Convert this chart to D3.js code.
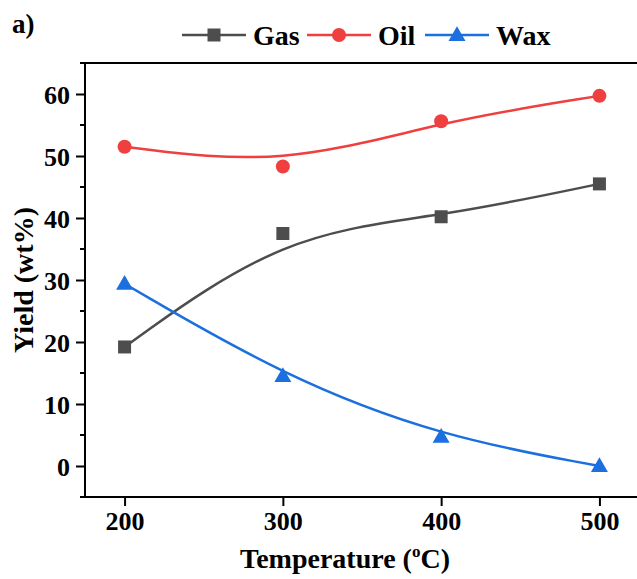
<!DOCTYPE html>
<html>
<head>
<meta charset="utf-8">
<script src="https://cdn.jsdelivr.net/npm/d3@7"></script>
<style>
  html, body { margin: 0; padding: 0; background: #fff; }
  svg text { font-family: "Times New Roman", "Liberation Serif", Tinos, Times, serif; font-weight: 700; fill: #000; }
</style>
</head>
<body>
<svg id="chart" width="637" height="579"></svg>
<script>
// Product yields (wt%) at each pyrolysis temperature
const temperatures = [200, 300, 400, 500];
const gasYield = [19.2, 37.5, 40.2, 45.5];
const oilYield = [51.5, 48.3, 55.6, 59.7];
const waxYield = [29.4, 14.5, 4.7, 0.0];
const seriesNames = ["Gas", "Oil", "Wax"];
const xTicks = [200, 300, 400, 500];
const yTicks = [0, 10, 20, 30, 40, 50, 60];
const yMinorTicks = [-5, 5, 15, 25, 35, 45, 55, 65];

const colors = { Gas: "#4d4d4d", Oil: "#ef3f3f", Wax: "#1c6fdf" };
const symbols = { Gas: "square", Oil: "circle", Wax: "triangle" };
const values = { Gas: gasYield, Oil: oilYield, Wax: waxYield };

const svg = d3.select("#chart");
const plotLeft = 85, plotRight = 639, plotTop = 63, plotBottom = 497;

const x = d3.scaleLinear().domain([175, 525]).range([plotLeft, plotRight]);
const y = d3.scaleLinear().domain([-5, 65]).range([plotBottom, plotTop]);

// frame: top border
svg.append("line")
  .attr("x1", plotLeft).attr("x2", plotRight).attr("y1", plotTop).attr("y2", plotTop)
  .attr("stroke", "#000").attr("stroke-width", 2);

// Y axis
const yAxis = svg.append("g").attr("transform", `translate(${plotLeft},0)`)
  .call(d3.axisLeft(y).tickValues(yTicks).tickSize(9).tickPadding(6).tickFormat(d3.format("d")));
yAxis.attr("font-family", null);
yAxis.select(".domain").attr("stroke-width", 2).attr("d", `M0,${plotTop}V${plotBottom}`);
yAxis.selectAll(".tick line").attr("stroke-width", 2);
yAxis.selectAll(".tick text").attr("font-size", 26).attr("dy", "0.38em");
yAxis.selectAll(".minor").data(yMinorTicks).enter().append("line")
  .attr("class", "minor").attr("x1", 0).attr("x2", -5)
  .attr("y1", d => y(d)).attr("y2", d => y(d))
  .attr("stroke", "#000").attr("stroke-width", 2);

// X axis
const xAxis = svg.append("g").attr("transform", `translate(0,${plotBottom})`)
  .call(d3.axisBottom(x).tickValues(xTicks).tickSize(9).tickPadding(6).tickFormat(d3.format("d")));
xAxis.attr("font-family", null);
xAxis.select(".domain").attr("stroke-width", 2).attr("d", `M${plotLeft},0H${plotRight}`);
xAxis.selectAll(".tick line").attr("stroke-width", 2);
xAxis.selectAll(".tick text").attr("font-size", 26);

svg.selectAll(".domain, .tick line").attr("stroke", "#000");

// Axis titles
svg.append("text")
  .attr("x", 345).attr("y", 568)
  .attr("text-anchor", "middle").attr("font-size", 28)
  .call(t => {
    t.append("tspan").text("Temperature (");
    t.append("tspan").text("o").attr("font-size", 17).attr("dy", -11);
    t.append("tspan").text("C)").attr("dy", 11);
  });

svg.append("text")
  .attr("transform", `translate(33,${(plotTop + plotBottom) / 2}) rotate(-90)`)
  .attr("text-anchor", "middle").attr("font-size", 28)
  .text("Yield (wt%)");

// Panel label
svg.append("text").attr("x", 12).attr("y", 33).attr("font-size", 27).text("a)");

// B-spline style curves using the data as control points
const line = d3.line().x(d => x(d[0])).y(d => y(d[1])).curve(d3.curveBasis);

const symbolGen = name => {
  if (symbols[name] === "square") return d3.symbol(d3.symbolSquare, 169)();
  if (symbols[name] === "circle") return d3.symbol(d3.symbolCircle, Math.PI * 49)();
  return d3.symbol(d3.symbolTriangle, 125)();
};

seriesNames.forEach(name => {
  const pts = temperatures.map((t, i) => [t, values[name][i]]);
  svg.append("path").datum(pts)
    .attr("d", line)
    .attr("fill", "none").attr("stroke", colors[name]).attr("stroke-width", 2.5);
  svg.selectAll(null).data(pts).enter().append("path")
    .attr("d", symbolGen(name))
    .attr("transform", d => `translate(${x(d[0])},${y(d[1]) + (symbols[name] === "triangle" ? 1 : 0)})`)
    .attr("fill", colors[name]);
});

// Legend
const legendItems = [
  { name: "Gas", x0: 182 },
  { name: "Oil", x0: 307 },
  { name: "Wax", x0: 425 }
];
const ly = 35;
legendItems.forEach(it => {
  const g = svg.append("g");
  g.append("line").attr("x1", it.x0).attr("x2", it.x0 + 64).attr("y1", ly).attr("y2", ly)
    .attr("stroke", colors[it.name]).attr("stroke-width", 2.5);
  g.append("path").attr("d", symbolGen(it.name))
    .attr("transform", `translate(${it.x0 + 32},${ly + (symbols[it.name] === "triangle" ? 1 : 0)})`)
    .attr("fill", colors[it.name]);
  g.append("text").attr("x", it.x0 + 71).attr("y", ly + 10).attr("font-size", 28).text(it.name);
});
</script>
</body>
</html>
